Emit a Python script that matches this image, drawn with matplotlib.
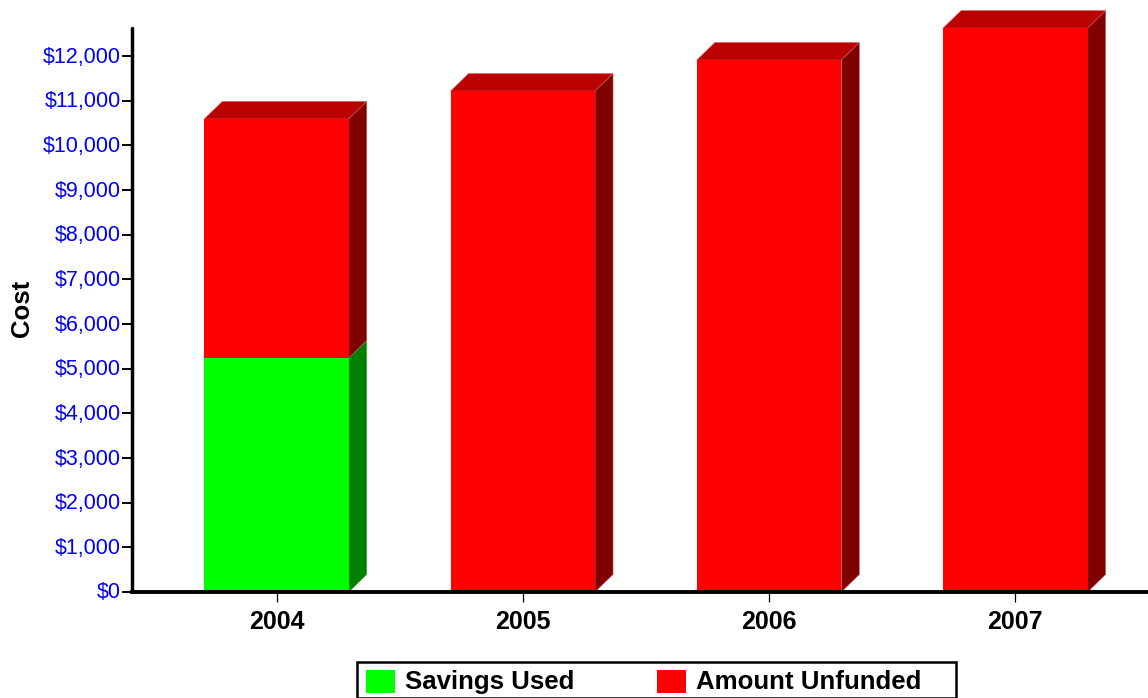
import matplotlib
matplotlib.use("Agg")
import matplotlib.pyplot as plt
from matplotlib.patches import Polygon, Rectangle
from matplotlib.ticker import FuncFormatter
from matplotlib.transforms import ScaledTranslation

plt.rcParams['font.family'] = ['Liberation Sans', 'DejaVu Sans']

years = ['2004', '2005', '2006', '2007']
savings_used = [5240, 0, 0, 0]
amount_unfunded = [5350, 11215, 11910, 12625]
y_ticks = list(range(0, 13000, 1000))

W, H = 1148, 698
fig = plt.figure(figsize=(W / 100, H / 100), dpi=100)
L, R, T, B = 132, 1148, 28, 592
ax = fig.add_axes([L / W, 1 - B / H, (R - L) / W, (B - T) / H])

px_y = 536 / 12000          # pixels per unit
px_x = 246.3                # pixels per category
x0 = (276.5 - L) / px_x     # offset of first category
ax.set_xlim(-x0, (R - L) / px_x - x0)
ax.set_ylim(0, (B - T) / px_y)

width = 144.5 / px_x
dx, dy = 18 / px_x, 17.5 / px_y


def bar3d(x, bottom, height, front, top, side, edge):
    x1, x2, y1, y2 = x - width / 2, x + width / 2, bottom, bottom + height
    ax.add_patch(Polygon([(x1, y2), (x2, y2), (x2 + dx, y2 + dy), (x1 + dx, y2 + dy)],
                         fc=top, ec=edge, lw=0.4, clip_on=False, zorder=2))
    ax.add_patch(Polygon([(x2, y1), (x2 + dx, y1 + dy), (x2 + dx, y2 + dy), (x2, y2)],
                         fc=side, ec=edge, lw=0.4, clip_on=False, zorder=2))
    ax.add_patch(Rectangle((x1, y1), width, height, fc=front, ec='none', clip_on=False, zorder=3))


for i in range(len(years)):
    if savings_used[i] > 0:
        bar3d(i, 0, savings_used[i], '#00ff00', '#00b300', '#008000', '#40b040')
    bar3d(i, savings_used[i], amount_unfunded[i], '#ff0000', '#bb0000', '#800000', '#d06060')

for s in ('top', 'right'):
    ax.spines[s].set_visible(False)
ax.spines['left'].set_linewidth(2.5)
ax.spines['bottom'].set_linewidth(2.8)
ax.spines['left'].set_capstyle('round')
for s in ('left', 'bottom'):
    ax.spines[s].set_zorder(5)

ax.set_yticks(y_ticks)
ax.yaxis.set_major_formatter(FuncFormatter(lambda v, _: f'${int(v):,}'))
ax.tick_params(axis='y', length=7, width=1.4, color='black', labelcolor='#0000ff',
               labelsize=15.5, pad=1)
shift = ScaledTranslation(0, 1.5 / 100, fig.dpi_scale_trans)
for t in ax.get_yticklabels():
    t.set_transform(t.get_transform() + shift)
ax.set_xticks(range(len(years)), years)
ax.tick_params(axis='x', length=7.2, width=0.9, labelsize=18, pad=5.5)
for t in ax.get_xticklabels():
    t.set_fontweight('bold')
fig.text(21.5 / W, 1 - 308 / H, 'Cost', rotation=90, ha='center', va='center',
         fontsize=18.5, fontweight='bold')

# legend box
fig.add_artist(Rectangle((357 / W, 0), 599 / W, 36.5 / H, transform=fig.transFigure,
                         fc='white', ec='black', lw=1.8, clip_on=False))
for x_sw, color, label in [(366, '#00ff00', 'Savings Used'), (657, '#ff0000', 'Amount Unfunded')]:
    fig.add_artist(Rectangle((x_sw / W, 1 - 693 / H), 29 / W, 23 / H, transform=fig.transFigure,
                             fc=color, ec='none'))
    fig.text((x_sw + 39) / W, 1 - 682 / H, label, ha='left', va='center', fontsize=18.6,
             fontweight='bold', color='black')

fig.savefig('out.png', dpi=100)
